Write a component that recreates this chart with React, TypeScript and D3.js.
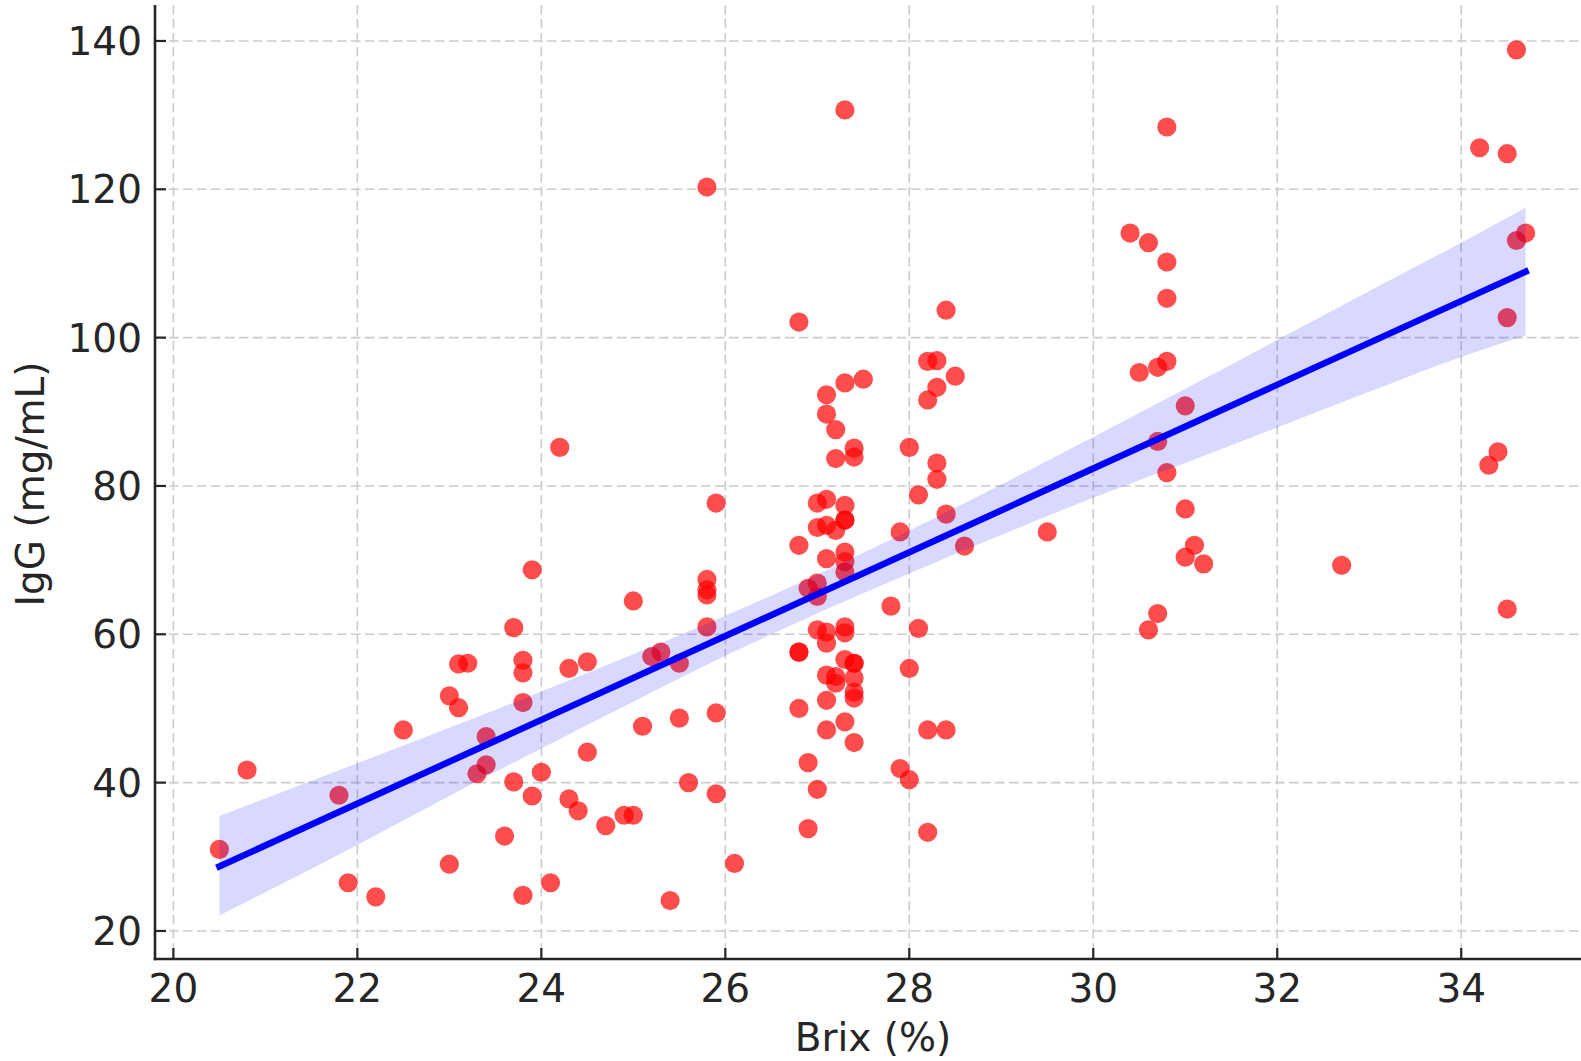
import * as d3 from "d3";

const brix = [
  20.5, 20.8, 21.8, 21.9, 22.2, 22.5, 23.0, 23.1, 23.0, 23.1, 23.2, 23.3, 23.4, 23.4, 23.6,
  23.7, 23.7, 23.8, 23.8, 23.8, 23.8, 23.9, 23.9, 24.0, 24.1, 24.2, 24.3, 24.3, 24.4, 24.5,
  24.5, 24.7, 24.9, 25.0, 25.0, 25.1, 25.2, 25.3, 25.4, 25.5, 25.5, 25.6, 25.8, 25.8, 25.8,
  25.8, 25.8, 25.9, 25.9, 25.9, 26.1, 26.8, 26.8, 26.8, 26.8, 26.8, 26.9, 26.9, 26.9, 27.0,
  27.0, 27.0, 27.0, 27.0, 27.0, 27.1, 27.1, 27.1, 27.1, 27.1, 27.1, 27.1, 27.1, 27.1, 27.1,
  27.2, 27.2, 27.2, 27.2, 27.2, 27.3, 27.3, 27.3, 27.3, 27.3, 27.3, 27.3, 27.3, 27.3, 27.3,
  27.3, 27.3, 27.4, 27.4, 27.4, 27.4, 27.4, 27.4, 27.4, 27.4, 27.5, 27.8, 27.9, 27.9, 28.0,
  28.0, 28.0, 28.1, 28.1, 28.2, 28.2, 28.2, 28.2, 28.3, 28.3, 28.3, 28.3, 28.4, 28.4, 28.4,
  28.5, 28.6, 29.5, 30.4, 30.5, 30.6, 30.6, 30.7, 30.7, 30.7, 30.8, 30.8, 30.8, 30.8, 30.8,
  31.0, 31.0, 31.0, 31.1, 31.2, 32.7, 34.2, 34.3, 34.4, 34.5, 34.5, 34.5, 34.6, 34.6, 34.7,
];

const igg = [
  31.0, 41.7, 38.3, 26.5, 24.6, 47.1, 51.7, 50.1, 29.0, 56.0, 56.1, 41.2, 46.2, 42.4, 32.8,
  60.9, 40.1, 56.5, 54.8, 50.8, 24.8, 38.2, 68.7, 41.4, 26.5, 85.2, 55.4, 37.8, 36.2, 56.3,
  44.1, 34.2, 35.6, 35.6, 64.5, 47.6, 57.0, 57.6, 24.1, 48.7, 56.1, 40.0, 120.3, 67.4, 66.0,
  65.3, 61.0, 77.7, 49.4, 38.5, 29.1, 102.1, 72.0, 57.6, 57.6, 50.0, 42.7, 33.8, 66.2, 66.9,
  65.1, 77.7, 74.4, 60.6, 39.1, 92.3, 89.7, 78.2, 74.7, 70.2, 60.3, 58.8, 54.5, 51.1, 47.1,
  87.6, 83.7, 74.0, 54.3, 53.4, 130.7, 93.9, 77.4, 75.4, 75.4, 71.1, 69.8, 68.4, 61.0, 60.2,
  56.6, 48.2, 85.1, 83.9, 56.1, 56.1, 54.1, 52.2, 51.4, 45.4, 94.4, 63.8, 73.8, 41.9, 85.2,
  55.4, 40.4, 78.8, 60.8, 96.8, 91.6, 47.1, 33.3, 96.9, 93.3, 83.1, 80.9, 103.7, 76.2, 47.1,
  94.8, 71.9, 73.8, 114.1, 95.3, 112.8, 60.6, 96.0, 86.0, 62.8, 128.4, 110.2, 105.3, 96.8, 81.8,
  90.8, 76.9, 70.4, 72.0, 69.5, 69.3, 125.6, 82.8, 84.6, 124.8, 102.7, 63.4, 138.8, 113.1, 114.1,
];

// fitted line end points and confidence band
const fitX = [20.5, 34.7];
const fitY = [28.7, 108.9];
const bandX = [20.5, 22, 23, 24, 25, 26, 26.8, 28, 29, 30, 31, 32, 33, 34, 34.7];
const bandLow = [22.1, 31.6, 38.2, 44.6, 50.9, 57.1, 61.7, 68.2, 73.4, 78.4, 83.1, 87.9, 92.7, 97.4, 100.3];
const bandHigh = [35.5, 42.6, 47.4, 52.3, 57.3, 62.5, 66.9, 74.0, 80.2, 86.6, 93.1, 99.7, 106.3, 112.8, 117.5];

const xTicks = [20, 22, 24, 26, 28, 30, 32, 34];
const yTicks = [20, 40, 60, 80, 100, 120, 140];

const W = 1581;
const H = 1061;
const left = 155;
const right = 1590;
const top = 5;
const bottom = 959;
const font = "'DejaVu Sans', sans-serif";
const ink = "#262626";

const App = () => {
  const x = d3.scaleLinear().domain([19.8, 35.4]).range([left, right]);
  const y = d3.scaleLinear().domain([16.22, 144.85]).range([bottom, top]);

  const band = d3
    .area<number>()
    .x((_, i) => x(bandX[i]))
    .y0((_, i) => y(bandLow[i]))
    .y1((_, i) => y(bandHigh[i]))
    .curve(d3.curveMonotoneX);

  const fit = d3
    .line<number>()
    .x((d) => x(d))
    .y((_, i) => y(fitY[i]));

  return (
    <svg width={W} height={H} style={{ position: "absolute", left: 0, top: 0, background: "#fff" }}>
      <defs>
        <clipPath id="plot">
          <rect x={left} y={top} width={right - left} height={bottom - top} />
        </clipPath>
      </defs>

      {/* grid */}
      <g stroke="#cccccc" strokeWidth={1.6} strokeDasharray="9.5,4.5">
        {xTicks.map((t) => (
          <line key={"gx" + t} x1={x(t)} x2={x(t)} y1={top} y2={bottom} />
        ))}
        {yTicks.map((t) => (
          <line key={"gy" + t} x1={left} x2={right} y1={y(t)} y2={y(t)} />
        ))}
      </g>

      <g clipPath="url(#plot)">
        {brix.map((b, i) => (
          <circle key={i} cx={x(b)} cy={y(igg[i])} r={9.6} fill="red" fillOpacity={0.7} />
        ))}
        <path d={band(bandX) || ""} fill="blue" fillOpacity={0.15} />
        <path d={fit(fitX) || ""} fill="none" stroke="blue" strokeWidth={6.5} strokeLinecap="square" />
      </g>

      {/* spines */}
      <line x1={left} x2={left} y1={top} y2={bottom + 1.3} stroke={ink} strokeWidth={2.6} />
      <line x1={left - 1.3} x2={W} y1={bottom} y2={bottom} stroke={ink} strokeWidth={2.6} />

      {/* ticks */}
      <g stroke={ink} strokeWidth={2.2}>
        {xTicks.map((t) => (
          <line key={"tx" + t} x1={x(t)} x2={x(t)} y1={bottom} y2={bottom - 11} />
        ))}
        {yTicks.map((t) => (
          <line key={"ty" + t} x1={left} x2={left + 11} y1={y(t)} y2={y(t)} />
        ))}
      </g>

      <g fontFamily={font} fontSize={39} fill={ink}>
        {xTicks.map((t) => (
          <text key={"lx" + t} x={x(t)} y={1002} textAnchor="middle">
            {t}
          </text>
        ))}
        {yTicks.map((t) => (
          <text key={"ly" + t} x={142} y={y(t) + 14} textAnchor="end">
            {t}
          </text>
        ))}
        <text x={873} y={1051} textAnchor="middle">
          Brix (%)
        </text>
        <text transform={`translate(44,484) rotate(-90)`} textAnchor="middle">
          IgG (mg/mL)
        </text>
      </g>
    </svg>
  );
};

export default App;
